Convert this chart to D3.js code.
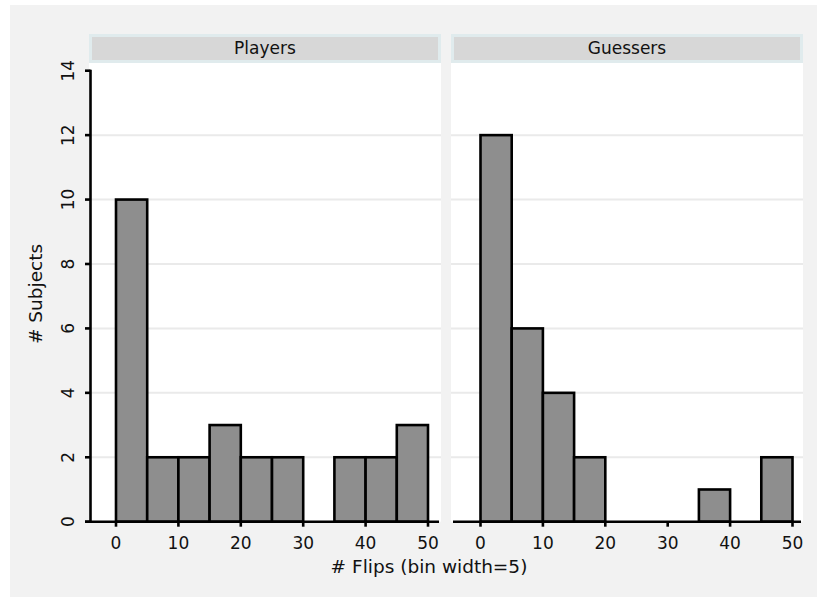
<!DOCTYPE html>
<html>
<head>
<meta charset="utf-8">
<script src="https://cdn.jsdelivr.net/npm/d3@7"></script>
<style>
  body { margin: 0; background: #fff; }
  text { font-family: "DejaVu Sans", sans-serif; fill: #111; }
</style>
</head>
<body>
<div id="chart"></div>
<script>
// bins of width 5, left edges
const binStarts = [0, 5, 10, 15, 20, 25, 30, 35, 40, 45];
const playerCounts = [10, 2, 2, 3, 2, 2, 0, 2, 2, 3];
const guesserCounts = [12, 6, 4, 2, 0, 0, 0, 1, 0, 2];
const panelNames = ["Players", "Guessers"];
const xTicks = [0, 10, 20, 30, 40, 50];
const yTicks = [0, 2, 4, 6, 8, 10, 12, 14];

const W = 817, H = 597;
const svg = d3.select("#chart").append("svg")
    .attr("width", W).attr("height", H);

// outer grey graph region
svg.append("rect").attr("x", 10).attr("y", 5).attr("width", W - 10).attr("height", H - 5)
    .attr("fill", "#f2f2f2");

const panelW = 352, panelTop = 63, binW = 5;
const panelLefts = [89, 451];
const zeroOffsets = [27, 29.5];
const y = d3.scaleLinear().domain([0, 14]).range([521.7, 70.7]);

const panels = [playerCounts, guesserCounts];

panels.forEach((counts, p) => {
    const left = panelLefts[p];
    const x0 = left + zeroOffsets[p];
    const x = d3.scaleLinear().domain([0, 50]).range([x0, x0 + 312]);
    const g = svg.append("g");

    // plot region
    g.append("rect").attr("x", left).attr("y", panelTop)
        .attr("width", panelW).attr("height", y(0) - panelTop).attr("fill", "#fff");

    // strip
    g.append("rect").attr("x", left + 1.5).attr("y", 35.5)
        .attr("width", panelW - 3).attr("height", 26)
        .attr("fill", "#d7d7d7").attr("stroke", "#e0ebed").attr("stroke-width", 3);
    g.append("text").attr("x", left + panelW / 2).attr("y", 53.5)
        .attr("text-anchor", "middle").style("font-size", "17px")
        .text(panelNames[p]);

    // grid lines
    g.selectAll(".grid").data(yTicks.filter(t => t > 0 && t < 14)).join("line")
        .attr("x1", left).attr("x2", left + panelW)
        .attr("y1", d => y(d)).attr("y2", d => y(d))
        .attr("stroke", "#eaeaea").attr("stroke-width", 2);

    // bars
    g.selectAll(".bar").data(binStarts.map((b, i) => ({ b, c: counts[i] })).filter(d => d.c > 0))
        .join("rect")
        .attr("x", d => x(d.b)).attr("y", d => y(d.c))
        .attr("width", d => x(d.b + binW) - x(d.b))
        .attr("height", d => y(0) - y(d.c))
        .attr("fill", "#8e8e8e").attr("stroke", "#000").attr("stroke-width", 2.6);

    // x axis
    const axisStart = p === 0 ? left - 4 : left + 2;
    g.append("line").attr("x1", axisStart).attr("x2", left + panelW - 2)
        .attr("y1", y(0)).attr("y2", y(0))
        .attr("stroke", "#000").attr("stroke-width", 2.6);
    g.selectAll(".xt").data(xTicks).join("line")
        .attr("x1", d => x(d)).attr("x2", d => x(d))
        .attr("y1", y(0)).attr("y2", y(0) + 5)
        .attr("stroke", "#000").attr("stroke-width", 2.6);
    g.selectAll(".xl").data(xTicks).join("text")
        .attr("x", d => x(d)).attr("y", 548.5)
        .attr("text-anchor", "middle").style("font-size", "17px")
        .text(d => d);

    // y axis only on the first panel
    if (p === 0) {
        g.append("line").attr("x1", left + 1.5).attr("x2", left + 1.5)
            .attr("y1", y(14) - 1).attr("y2", y(0))
            .attr("stroke", "#000").attr("stroke-width", 2.6);
        g.selectAll(".yt").data(yTicks).join("line")
            .attr("x1", left - 4).attr("x2", left + 1.5)
            .attr("y1", d => y(d)).attr("y2", d => y(d))
            .attr("stroke", "#000").attr("stroke-width", 2.6);
        g.selectAll(".yl").data(yTicks).join("text")
            .attr("transform", d => `translate(73.5,${y(d)}) rotate(-90)`)
            .attr("text-anchor", "middle").style("font-size", "17px")
            .text(d => d);
    }
});

// axis titles
svg.append("text").attr("x", 429).attr("y", 573)
    .attr("text-anchor", "middle").style("font-size", "18.5px")
    .text("# Flips (bin width=5)");
svg.append("text").attr("transform", "translate(42,294) rotate(-90)")
    .attr("text-anchor", "middle").style("font-size", "18.5px")
    .text("# Subjects");
</script>
</body>
</html>
